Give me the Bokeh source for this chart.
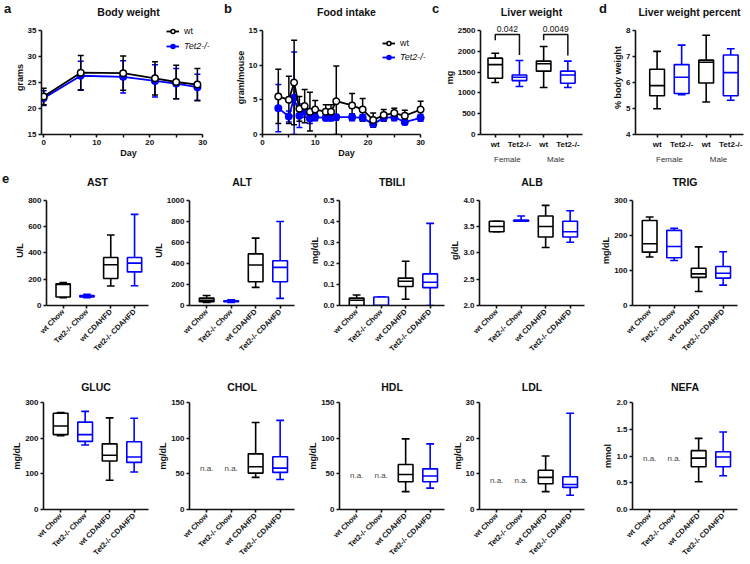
import math
from bokeh.plotting import figure
from bokeh.layouts import row, column
from bokeh.models import (ColumnDataSource, Whisker, TeeHead, Legend, LegendItem, Div,
                          FixedTicker, LinearAxis, Label, Range1d, NumeralTickFormatter)
from bokeh.transform import dodge
from bokeh.embed import file_html
from bokeh.resources import INLINE
from bokeh.core.properties import value

FONT = "Liberation Sans"
INK = "#111111"
BLACK = "#000000"
BLUE = "#0000ff"

# ---------------- data ----------------
# a: body weight (mean, SD)
bw_days = [0, 7, 15, 21, 25, 29]
bw_wt = [22.3, 26.9, 26.8, 25.8, 25.1, 24.6]
bw_wt_err = [1.6, 3.3, 3.3, 3.2, 3.2, 3.1]
bw_ko = [22.0, 26.3, 26.1, 25.3, 24.8, 24.1]
bw_ko_err = [1.4, 2.8, 3.1, 3.1, 2.9, 2.5]

# b: food intake (mean, SD)
fi_days = [3, 5, 6, 7, 8, 9, 10, 12, 13, 14, 17, 19, 21, 23, 25, 27, 30]
fi_wt = [5.5, 5.0, 7.5, 3.7, 4.1, 3.3, 3.6, 3.3, 3.3, 4.8, 4.2, 3.6, 2.1, 2.8, 3.1, 2.7, 3.6]
fi_wt_err = [3.9, 3.4, 6.1, 1.8, 2.4, 2.8, 1.3, 1.0, 1.0, 5.1, 1.7, 1.6, 1.0, 0.8, 0.7, 0.8, 1.2]
fi_ko = [3.8, 2.6, 5.3, 2.7, 3.3, 2.3, 2.5, 2.4, 2.4, 2.5, 2.5, 2.4, 1.5, 2.4, 2.5, 1.8, 2.4]
fi_ko_err = [3.4, 0.8, 6.6, 1.7, 0.8, 0.7, 0.5, 0.4, 0.4, 0.4, 0.5, 0.5, 0.4, 0.5, 0.5, 0.4, 0.5]

# box stats: [min, q1, median, q3, max]
liver_weight = [[1249, 1352, 1680, 1836, 1952], [1156, 1296, 1375, 1430, 1780],
                [1132, 1523, 1703, 1765, 2117], [1132, 1234, 1430, 1523, 1765]]
liver_pct = [[4.99, 5.49, 5.88, 6.51, 7.20], [5.53, 5.58, 6.20, 6.69, 7.44],
             [5.25, 5.98, 6.78, 6.86, 7.82], [5.32, 5.49, 6.38, 7.06, 7.30]]
p_labels = ["0.042", "0.0049"]
p_pairs = [(1, 2), (3, 4)]
p_top = [2407, 2407]
p_left_end = [2266, 2266]
p_right_end = [1910, 1900]

ast = [[60, 65, 160, 165, 175], [60, 65, 70, 75, 85], [148, 205, 310, 365, 535], [150, 255, 322, 365, 692]]
alt = [[30, 35, 50, 70, 95], [30, 35, 40, 45, 55], [172, 225, 385, 490, 640], [68, 225, 362, 425, 798]]
tbili = [[0.0, 0.0, 0.025, 0.035, 0.05], [0.0, 0.0, 0.0, 0.04, 0.04],
         [0.03, 0.09, 0.115, 0.13, 0.21], [0.0, 0.085, 0.11, 0.15, 0.39]]
alb = [[3.4, 3.4, 3.5, 3.6, 3.6], [3.6, 3.6, 3.6, 3.62, 3.7], [3.1, 3.3, 3.5, 3.7, 3.9], [3.2, 3.3, 3.4, 3.6, 3.8]]
trig = [[138, 152, 176, 242, 252], [128, 136, 168, 214, 220], [40, 80, 90, 106, 167], [58, 78, 92, 111, 153]]
gluc = [[207, 210, 234, 270, 272], [181, 191, 210, 245, 275], [82, 136, 152, 184, 257], [105, 132, 147, 190, 256]]
chol = [None, None, [45, 51, 60, 78, 122], [42, 52, 58, 74, 125]]
hdl = [None, None, [25, 39, 49, 63, 99], [30, 39, 47, 57, 92]]
ldl = [None, None, [5, 7.2, 9, 11, 15], [4, 6.2, 7, 9.2, 27]]
nefa = [None, None, [0.52, 0.80, 0.96, 1.10, 1.33], [0.63, 0.80, 0.98, 1.08, 1.45]]
na_level = {"CHOL": 58, "HDL": 47, "LDL": 8, "NEFA": 0.95}

group_colors = [BLACK, BLUE, BLACK, BLUE]
diet_labels = ["wt Chow", "Tet2-/- Chow", "wt CDAHFD", "Tet2-/- CDAHFD"]
sex_labels = ["wt", "Tet2-/-", "wt", "Tet2-/-"]
sex_groups = ["Female", "Male"]
panel_letters = ["a", "b", "c", "d", "e"]


# ---------------- helpers ----------------
def style_axis(ax, label=None, tick_size="8px"):
    ax.axis_line_width = 1.6
    ax.axis_line_color = INK
    ax.major_tick_line_width = 1.6
    ax.major_tick_line_color = INK
    ax.major_tick_out = 3
    ax.major_tick_in = 0
    ax.minor_tick_line_color = None
    ax.major_label_text_font = FONT
    ax.major_label_text_font_size = tick_size
    ax.major_label_text_font_style = "bold"
    ax.major_label_text_color = INK
    ax.major_label_standoff = 2
    if label:
        ax.axis_label = label
    ax.axis_label_text_font = FONT
    ax.axis_label_text_font_size = "9px"
    ax.axis_label_text_font_style = "bold"
    ax.axis_label_text_color = INK
    ax.axis_label_standoff = 0


def base_fig(w, h, bl, br, bt, bb, xr, yr, title, standoff):
    p = figure(width=w, height=h, x_range=Range1d(*xr), y_range=Range1d(*yr), title=title,
               output_backend="svg", toolbar_location=None,
               min_border_left=bl, min_border_right=br, min_border_top=bt, min_border_bottom=bb)
    p.title.text_font = FONT
    p.title.text_font_size = "10.5px"
    p.title.text_font_style = "bold"
    p.title.text_color = INK
    p.title.align = "center"
    p.title.standoff = standoff
    p.xgrid.visible = False
    p.ygrid.visible = False
    p.outline_line_color = None
    return p


def letter_div(txt, w, h, pad_left, pad_top):
    return Div(text=txt, width=w, height=h, margin=0,
               styles={"font-family": FONT, "font-size": "13px", "font-weight": "bold",
                       "color": INK, "padding-left": f"{pad_left}px",
                       "padding-top": f"{pad_top}px", "line-height": "15px",
                       "box-sizing": "border-box"})


def add_boxes(p, stats, colors, bw=0.6, cw=0.32, lw=1.6):
    d = dict(x=[], lo=[], q1=[], md=[], q3=[], hi=[], c=[])
    for i, s in enumerate(stats):
        if s is None:
            continue
        d["x"].append(i + 1)
        d["lo"].append(s[0]); d["q1"].append(s[1]); d["md"].append(s[2])
        d["q3"].append(s[3]); d["hi"].append(s[4]); d["c"].append(colors[i])
    src = ColumnDataSource(d)
    kw = dict(source=src, line_color="c", line_width=lw)
    p.segment(x0="x", y0="q3", x1="x", y1="hi", **kw)
    p.segment(x0="x", y0="lo", x1="x", y1="q1", **kw)
    p.segment(x0=dodge("x", -cw / 2), y0="hi", x1=dodge("x", cw / 2), y1="hi", **kw)
    p.segment(x0=dodge("x", -cw / 2), y0="lo", x1=dodge("x", cw / 2), y1="lo", **kw)
    p.vbar(x="x", width=bw, bottom="q1", top="q3", fill_color="white", **kw)
    p.segment(x0=dodge("x", -bw / 2), y0="md", x1=dodge("x", bw / 2), y1="md", **kw)


def add_series(p, xs, ys, errs, color, open_marker, floor):
    up = [y + e for y, e in zip(ys, errs)]
    lo = [max(y - e, floor) for y, e in zip(ys, errs)]
    src = ColumnDataSource(dict(x=xs, y=ys, upper=up, lower=lo))
    p.add_layout(Whisker(source=src, base="x", upper="upper", lower="lower",
                         line_color=color, line_width=1.5,
                         upper_head=TeeHead(size=6, line_color=color, line_width=1.5),
                         lower_head=TeeHead(size=6, line_color=color, line_width=1.5)))
    ln = p.line("x", "y", source=src, line_color=color, line_width=1.8)
    sc = p.scatter("x", "y", source=src, marker="circle", size=6.5,
                   fill_color="white" if open_marker else color, line_color=color, line_width=1.5)
    return ln, sc


def add_legend(p, label, rends, x, y, italic):
    lg = Legend(items=[LegendItem(label=label, renderers=rends)], location=(x, y),
                border_line_color=None, background_fill_alpha=0, padding=0, margin=0,
                spacing=0, glyph_width=13, glyph_height=10, label_height=10,
                label_standoff=5, label_text_font=FONT, label_text_font_size="9px",
                label_text_color=INK, label_text_font_style="italic" if italic else "normal")
    p.add_layout(lg)


# ---------------- row 1 ----------------
H1, T1, B1 = 166, 19, 30
FH1 = H1 - T1 - B1          # 117
AX1 = 106.7                  # pixel length of the drawn value axis
PXD = 160 / 30               # px per day
S1 = 6

# a
pa = base_fig(211, H1, 29, 7, T1, B1, (-0.4, -0.4 + 175 / PXD),
              (15, 15 + 20 * FH1 / AX1), "Body weight", S1)
style_axis(pa.xaxis[0], "Day")
style_axis(pa.yaxis[0], "grams")
pa.xaxis[0].ticker = FixedTicker(ticks=[0, 10, 20, 30], minor_ticks=[5, 15, 25])
pa.xaxis[0].minor_tick_line_color = INK
pa.xaxis[0].minor_tick_line_width = 1.4
pa.xaxis[0].minor_tick_out = 3
pa.xaxis[0].minor_tick_in = 0
pa.xaxis[0].bounds = (-0.4, 30)
pa.yaxis[0].ticker = FixedTicker(ticks=[15, 20, 25, 30, 35])
pa.yaxis[0].bounds = (15, 35)
lk, sk = add_series(pa, bw_days, bw_ko, bw_ko_err, BLUE, False, 15)
lw_, sw_ = add_series(pa, bw_days, bw_wt, bw_wt_err, BLACK, True, 15)
add_legend(pa, "wt", [lw_, sw_], 125, 98, False)
add_legend(pa, "Tet2-/-", [lk, sk], 125, 83, True)

# b
pb = base_fig(198, H1, 28, 0, T1, B1, (0, 170 / PXD),
              (0, 15 * FH1 / AX1), "Food intake", S1)
style_axis(pb.xaxis[0], "Day")
style_axis(pb.yaxis[0], "gram/mouse")
pb.xaxis[0].ticker = FixedTicker(ticks=[0, 10, 20, 30], minor_ticks=[5, 15, 25])
pb.xaxis[0].minor_tick_line_color = INK
pb.xaxis[0].minor_tick_line_width = 1.4
pb.xaxis[0].minor_tick_out = 3
pb.xaxis[0].minor_tick_in = 0
pb.xaxis[0].bounds = (0, 30)
pb.yaxis[0].ticker = FixedTicker(ticks=[0, 5, 10, 15])
pb.yaxis[0].bounds = (0, 15)
lk2, sk2 = add_series(pb, fi_days, fi_ko, fi_ko_err, BLUE, False, 0)
lw2, sw2 = add_series(pb, fi_days, fi_wt, fi_wt_err, BLACK, True, 0)
add_legend(pb, "wt", [lw2, sw2], 120, 86, False)
add_legend(pb, "Tet2-/-", [lk2, sk2], 120, 72, True)


def sex_panel(w, bl, br, xr, yr, ticks, bounds, title, ylabel, stats):
    p = base_fig(w, H1, bl, br, T1, B1, xr, yr, title, S1)
    style_axis(p.xaxis[0])
    style_axis(p.yaxis[0], ylabel)
    p.xaxis[0].ticker = FixedTicker(ticks=[1, 2, 3, 4])
    p.xaxis[0].major_label_overrides = {i + 1: s for i, s in enumerate(sex_labels)}
    p.yaxis[0].ticker = FixedTicker(ticks=ticks)
    p.yaxis[0].bounds = bounds
    ax2 = LinearAxis(ticker=FixedTicker(ticks=[1.5, 3.5]),
                     major_label_overrides={1.5: sex_groups[0], 3.5: sex_groups[1]})
    style_axis(ax2)
    ax2.axis_line_color = None
    ax2.major_tick_line_color = None
    ax2.major_label_text_font_style = "normal"
    ax2.major_label_text_color = "#333333"
    ax2.major_label_standoff = 0
    p.add_layout(ax2, "below")
    add_boxes(p, stats, group_colors, bw=0.6, cw=0.32)
    return p


pc = sex_panel(155, 37, 14, (0.39, 0.39 + 104 / 24.67), (0, 2500 * FH1 / AX1),
               [0, 500, 1000, 1500, 2000, 2500], (0, 2500), "Liver weight", "mg", liver_weight)
br_xs, br_ys = [], []
for (i1, i2), t, l_end, r_end in zip(p_pairs, p_top, p_left_end, p_right_end):
    br_xs.append([i1, i1, i2, i2])
    br_ys.append([l_end, t, t, r_end])
pc.multi_line(br_xs, br_ys, line_color=INK, line_width=1.5)
for (i1, i2), t, lab in zip(p_pairs, p_top, p_labels):
    pc.add_layout(Label(x=(i1 + i2) / 2, y=t, y_offset=2, text=lab, text_font=FONT,
                        text_font_size="8.5px", text_color=INK, text_align="center",
                        text_baseline="bottom"))

pd_ = sex_panel(138, 23, 5, (0.12, 0.12 + 110 / 25), (4, 4 + 4 * FH1 / AX1),
                [4, 5, 6, 7, 8], (4, 8), "Liver weight percent", "% body weight", liver_pct)

row1 = row(letter_div(panel_letters[0], 11, H1, 4, 1), pa,
           letter_div(panel_letters[1], 10, H1, 2, 1), pb,
           letter_div(panel_letters[2], 11, H1, 2, 1), pc,
           letter_div(panel_letters[3], 14, H1, 3, 1), pd_)

# ---------------- rows 2 and 3 ----------------
cols = [(150, 43, 2), (146, 39, 2), (150, 43, 2), (144, 33, 6), (158, 42, 11)]
UNIT = 24.5


def box_panel(col, rowspec, title, ylabel, ymax, ystep, fmt, stats, ymin=0, na=None, shrink=0):
    h, bt, bb, axis_px, standoff = rowspec
    w, bl, br = col
    w, bl = w - shrink, bl - shrink
    fw = w - bl - br
    fh = h - bt - bb
    ytop = ymin + (ymax - ymin) * fh / axis_px
    p = base_fig(w, h, bl, br, bt, bb, (0.3, 0.3 + fw / UNIT), (ymin, ytop), title, standoff)
    style_axis(p.xaxis[0])
    style_axis(p.yaxis[0], ylabel)
    p.xaxis[0].ticker = FixedTicker(ticks=[1, 2, 3, 4])
    p.xaxis[0].major_label_overrides = {i + 1: s for i, s in enumerate(diet_labels)}
    p.xaxis[0].major_label_orientation = math.pi / 4
    p.xaxis[0].major_label_text_font_size = "7.5px"
    n = int(round((ymax - ymin) / ystep))
    p.yaxis[0].ticker = FixedTicker(ticks=[ymin + k * ystep for k in range(n + 1)])
    p.yaxis[0].formatter = NumeralTickFormatter(format=fmt)
    p.yaxis[0].bounds = (ymin, ymax)
    add_boxes(p, stats, group_colors, bw=0.6, cw=0.32)
    if na is not None:
        p.text(x=[1, 2], y=[na, na], text=["n.a.", "n.a."], text_font=value(FONT),
               text_font_size="8px", text_color="#444444", text_align="center",
               text_baseline="middle")
    return p


# (height, top border, bottom border, drawn axis length px, title standoff)
R2 = (202, 28, 63, 106.3, 15)
R3 = (196, 34, 55, 107, 20)
r2 = [
    box_panel(cols[0], R2, "AST", "U/L", 800, 200, "0", ast, shrink=12),
    box_panel(cols[1], R2, "ALT", "U/L", 1000, 200, "0", alt),
    box_panel(cols[2], R2, "TBILI", "mg/dL", 0.5, 0.1, "0.0", tbili),
    box_panel(cols[3], R2, "ALB", "g/dL", 4.0, 0.5, "0.0", alb, ymin=2.0),
    box_panel(cols[4], R2, "TRIG", "mg/dL", 300, 100, "0", trig),
]
r3 = [
    box_panel(cols[0], R3, "GLUC", "mg/dL", 300, 100, "0", gluc),
    box_panel(cols[1], R3, "CHOL", "mg/dL", 150, 50, "0", chol, na=na_level["CHOL"]),
    box_panel(cols[2], R3, "HDL", "mg/dL", 150, 50, "0", hdl, na=na_level["HDL"]),
    box_panel(cols[3], R3, "LDL", "mg/dL", 30, 10, "0", ldl, na=na_level["LDL"]),
    box_panel(cols[4], R3, "NEFA", "mmol", 2.0, 0.5, "0.0", nefa, na=na_level["NEFA"]),
]

layout = column(row1,
                row(letter_div(panel_letters[4], 12, R2[0], 2, 5), *r2),
                row(*r3))
open("out.html", "w").write(file_html(layout, INLINE))
